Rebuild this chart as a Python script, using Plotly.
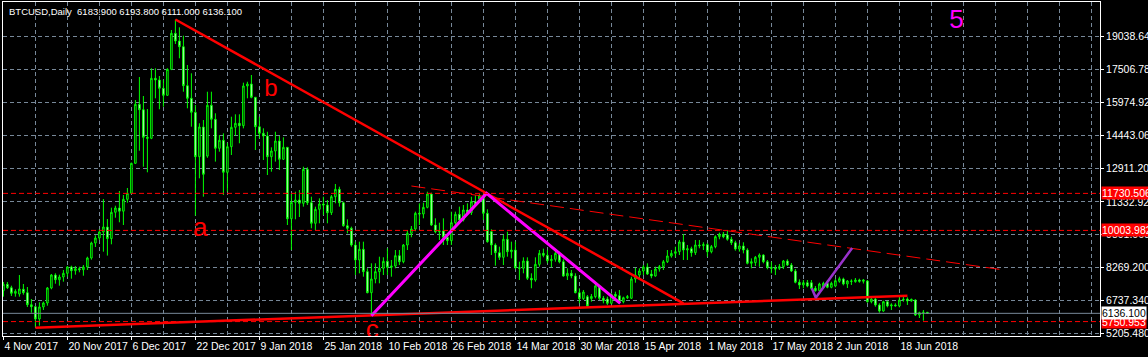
import plotly.graph_objects as go

# ---------------- data ----------------
tick_index = [0, 16, 32, 48, 64, 80, 96, 112, 128, 144, 160, 176, 192, 208, 224]
tick_labels = ["4 Nov 2017", "20 Nov 2017", "6 Dec 2017", "22 Dec 2017", "9 Jan 2018",
               "25 Jan 2018", "10 Feb 2018", "26 Feb 2018", "14 Mar 2018", "30 Mar 2018",
               "15 Apr 2018", "1 May 2018", "17 May 2018", "2 Jun 2018", "18 Jun 2018"]

price_ticks = [5205.48, 6737.34, 8269.2, 9801.06, 11332.92, 12911.2, 14443.06, 15974.92, 17506.78, 19038.64]
price_tick_text = ["5205.480", "6737.340", "8269.200", "9801.060", "11332.920", "12911.200",
                   "14443.060", "15974.920", "17506.780", "19038.640"]

opens = [
    7192, 7491, 7332, 7071, 7038, 7258, 7100, 6539, 6446, 5872, 6432, 6618, 7318, 7924, 7705, 7831,
    8003, 8297, 8124, 8218, 8171, 8297, 8717, 9417, 9650, 9930, 10163, 9624, 10849, 11049, 10900, 11454,
    11735, 13134, 15885, 15634, 14346, 14300, 17098, 17019, 16632, 16305, 17518, 19197, 18838, 18572, 16754, 16165,
    15512, 13442, 14827, 13470, 15839, 15186, 13833, 14207, 12714, 13908, 14813, 15000, 14887, 16739, 16832, 16212,
    14841, 14531, 14407, 13442, 13707, 14174, 13321, 13879, 10549, 11314, 11422, 11268, 12854, 11296, 10335, 10989,
    11236, 11188, 10830, 11577, 11921, 11296, 10224, 10102, 9323, 8624, 9123, 8081, 7099, 7738, 8081, 8237,
    8562, 8283, 8344, 8825, 8545, 9323, 9869, 10070, 10802, 10769, 11080, 11702, 10256, 9946, 9980, 9683,
    9524, 10364, 10755, 10489, 10956, 10830, 11343, 11468, 11608, 10802, 9946, 9323, 8964, 8748, 9590, 9011,
    9090, 8265, 8237, 8577, 7770, 7691, 8421, 8934, 8840, 8591, 8656, 8934, 8545, 7877, 8003, 7877,
    7099, 6819, 6913, 6820, 6913, 7411, 6838, 6805, 6604, 7024, 6960, 6679, 6865, 6840, 7738, 7924,
    8110, 8297, 7971, 7877, 8204, 8311, 8545, 8811, 8934, 9011, 9464, 9090, 9152, 8964, 9323, 9290,
    9340, 9011, 9246, 9711, 9822, 9790, 9590, 9431, 9137, 9277, 9090, 8470, 8500, 8750, 8857, 8545,
    8283, 8237, 8237, 8311, 8577, 8390, 8110, 7584, 7458, 7565, 7565, 7304, 7192, 7350, 7537, 7350,
    7411, 7630, 7738, 7504, 7644, 7612, 7691, 7630, 7644, 6679, 6805, 6526, 6245, 6679, 6479, 6526,
    6479, 6758, 6805, 6712, 6758, 6059, 6166, 6183.9,
]
highs = [
    7598, 7598, 7425, 7258, 7924, 7504, 7365, 6805, 6480, 6651, 6679, 7365, 7971, 8003, 7938, 8157,
    8344, 8358, 8344, 8311, 8390, 8778, 9478, 9776, 10056, 11468, 10535, 11064, 11157, 11842, 11655, 11982,
    13163, 16086, 17159, 16273, 15666, 17565, 17565, 17205, 17033, 17565, 19351, 19840, 19477, 19085, 17718, 17331,
    15853, 15000, 15153, 16473, 16473, 15466, 14454, 14531, 14095, 15307, 15419, 15419, 16893, 16939, 17252, 16226,
    15307, 14766, 14606, 13879, 14606, 14407, 14346, 13893, 11735, 11809, 11889, 12975, 12947, 11577, 11112, 11500,
    11577, 11422, 11655, 12169, 12043, 11343, 10521, 10179, 9478, 9478, 9478, 8237, 8470, 8470, 8778, 8750,
    9170, 8624, 9090, 9090, 9370, 10023, 10210, 10878, 11268, 11296, 11809, 11764, 10568, 10364, 10568, 9846,
    10878, 10878, 11112, 11188, 11268, 11577, 11650, 11700, 11730, 10989, 10056, 9400, 9246, 9800, 9946, 9478,
    9478, 8545, 8748, 8748, 8003, 8748, 9090, 9152, 9090, 8857, 9123, 9011, 8656, 8237, 8157, 8003,
    7304, 7225, 6991, 7038, 7537, 7458, 6944, 6913, 7071, 7146, 7225, 6913, 6991, 7845, 8265, 8237,
    8390, 8470, 8157, 8311, 8390, 8624, 9090, 9090, 9246, 9557, 9834, 9323, 9246, 9557, 9557, 9450,
    9400, 9323, 9776, 9900, 9930, 9991, 9711, 9524, 9400, 9450, 9170, 8700, 8811, 8934, 8890, 8624,
    8545, 8390, 8437, 8624, 8656, 8484, 8204, 7722, 7691, 7691, 7691, 7411, 7565, 7612, 7691, 7612,
    7752, 7845, 7800, 7691, 7722, 7784, 7752, 7738, 7691, 6882, 6882, 6604, 6725, 6725, 6604, 6604,
    6913, 6945, 6882, 6820, 6790, 6212, 6292, 6193.8,
]
lows = [
    6913, 7271, 6945, 6913, 6913, 7006, 6432, 6166, 5485, 5560, 6292, 6492, 7258, 7518, 7425, 7612,
    7845, 7752, 7938, 8050, 7891, 8157, 8638, 9230, 9557, 9011, 8829, 9356, 10596, 10382, 10256, 11296,
    11700, 13100, 13721, 12975, 12714, 14260, 16165, 15653, 15774, 16280, 17480, 18699, 18031, 16473, 15699, 14841,
    10690, 12434, 11577, 13391, 14764, 13212, 13676, 11655, 11809, 13521, 14420, 14067, 14764, 16165, 16165, 13754,
    14300, 13288, 12588, 12742, 13212, 12821, 13288, 10256, 9090, 10521, 10629, 11112, 11188, 10102, 10023, 10335,
    10722, 10335, 10722, 11268, 11112, 10177, 9869, 9246, 7924, 8003, 7845, 7071, 6026, 7537, 7537, 7924,
    7924, 7845, 8237, 8390, 8470, 9090, 9683, 9963, 10256, 10568, 11034, 10210, 9869, 9557, 9323, 9323,
    9323, 10256, 10410, 10420, 10722, 10722, 11112, 11420, 10489, 9431, 8857, 8358, 8624, 8390, 8778, 8700,
    8190, 7691, 8003, 7691, 7304, 7612, 8311, 8750, 8470, 8283, 8545, 8470, 7845, 7691, 7770, 7071,
    6604, 6758, 6446, 6679, 6835, 6758, 6604, 6526, 6555, 6758, 6604, 6604, 6805, 6805, 7565, 7770,
    7924, 7924, 7770, 7845, 8081, 8157, 8484, 8733, 8750, 8857, 8624, 8624, 8778, 8857, 9170, 9090,
    8778, 8934, 9170, 9590, 9640, 9524, 9323, 9060, 9011, 8934, 8420, 8237, 8344, 8311, 8470, 8190,
    8003, 7924, 8157, 8204, 8344, 8063, 7537, 7271, 7304, 7350, 7225, 7146, 7146, 7304, 7304, 7304,
    7350, 7565, 7441, 7318, 7458, 7565, 7565, 7528, 6632, 6604, 6446, 6166, 6212, 6415, 6292, 6446,
    6415, 6679, 6526, 6679, 6012, 5918, 5792, 6111.0,
]
closes = [
    7491, 7332, 7071, 7164, 7271, 7100, 6539, 6446, 5872, 6432, 6618, 7318, 7924, 7705, 7831, 8003,
    8297, 8124, 8218, 8171, 8297, 8717, 9417, 9650, 9930, 10163, 9624, 10849, 11049, 10900, 11454, 11735,
    13134, 15885, 15634, 14346, 14300, 17098, 17019, 16632, 16305, 17518, 19197, 18838, 18572, 16754, 16165, 15512,
    13442, 14827, 12620, 15839, 15186, 13833, 14207, 12714, 13908, 14813, 15000, 14887, 16739, 16832, 16212, 14841,
    14531, 14407, 13442, 13707, 14174, 13321, 13879, 10549, 11314, 11422, 11268, 12854, 11296, 10335, 10989, 11236,
    11188, 10830, 11577, 11921, 11296, 10224, 10102, 9323, 8624, 9123, 8081, 7099, 7738, 8081, 8237, 8562,
    8283, 8344, 8825, 8545, 9323, 9869, 10070, 10802, 10769, 11080, 11702, 10256, 9946, 9980, 9683, 9524,
    10364, 10755, 10489, 10956, 10830, 11343, 11188, 11608, 10802, 9478, 9323, 8964, 8748, 9590, 9011, 9090,
    8265, 8237, 8577, 7770, 7691, 8421, 8934, 8840, 8591, 8656, 8934, 8545, 7877, 8003, 7877, 7099,
    6819, 7131, 6479, 6925, 7411, 6838, 6725, 6604, 7024, 6930, 6679, 6865, 6913, 7738, 7924, 8110,
    8297, 7971, 7877, 8204, 8311, 8545, 8811, 8934, 9011, 9464, 9090, 9152, 8964, 9323, 9290, 9340,
    9011, 9246, 9711, 9822, 9711, 9590, 9431, 9137, 9277, 9090, 8470, 8545, 8750, 8857, 8545, 8283,
    8237, 8204, 8311, 8577, 8390, 8110, 7584, 7458, 7565, 7411, 7304, 7192, 7504, 7537, 7350, 7537,
    7658, 7752, 7504, 7644, 7630, 7691, 7630, 7691, 6679, 6805, 6526, 6245, 6679, 6479, 6526, 6490,
    6758, 6790, 6712, 6790, 6059, 6166, 6183.9, 6136.1,
]

# drawn chart objects (bar index, price)
down_line_x = [43, 170]
down_line_y = [19840, 6604]
support_x = [8, 226]
support_y = [5466, 6959]
upper_trend_x = [102, 249]
upper_trend_y = [12075, 8190]
magenta_x = [92, 120.8, 154.2]
magenta_y = [6026, 11730.506, 6604]
purple_x = [202.1, 203.1, 212.2]
purple_y = [7304, 6865, 9183]

red_levels = [11730.506, 10003.982, 5750.953]
bid_level = 6136.1

wave_labels = ["a", "b", "c", "5"]
wave_x = [49.2, 66.9, 92.2, 238.3]
wave_y = [10060, 16571, 5293, 19729]
wave_colors = ["#FF0000", "#FF0000", "#FF0000", "#FF00FF"]
wave_sizes = [26, 24, 26, 26]

title_text = "BTCUSD,Daily\u00a0\u00a06183.900\u00a06193.800\u00a06111.000\u00a06136.100"

# ---------------- figure ----------------
FONT = "Liberation Sans, Arial, sans-serif"
GRID = "#778899"

fig = go.Figure()
fig.add_trace(go.Candlestick(
    x=list(range(len(opens))), open=opens, high=highs, low=lows, close=closes,
    increasing=dict(line=dict(color="#00FF00", width=1), fillcolor="#000000"),
    decreasing=dict(line=dict(color="#00FF00", width=1), fillcolor="#FFFFFF"),
    whiskerwidth=0, hoverinfo="skip", showlegend=False))


def add_line(xs, ys, color, width, dash="solid"):
    fig.add_trace(go.Scatter(x=xs, y=ys, mode="lines",
                             line=dict(color=color, width=width, dash=dash),
                             hoverinfo="skip", showlegend=False))


add_line(upper_trend_x, upper_trend_y, "#FF0000", 1, "14px,6px")
add_line(support_x, support_y, "#FF0000", 2.5)
add_line(down_line_x, down_line_y, "#FF0000", 2.5)
add_line(magenta_x, magenta_y, "#FF00FF", 3)
add_line(purple_x, purple_y, "#9932CC", 2.5)

for lab, xx, yy, cc, ss in zip(wave_labels, wave_x, wave_y, wave_colors, wave_sizes):
    fig.add_trace(go.Scatter(x=[xx], y=[yy], mode="text", text=[lab],
                             textposition="middle center",
                             textfont=dict(family=FONT, size=ss, color=cc),
                             hoverinfo="skip", showlegend=False, cliponaxis=True))

for lv in red_levels:
    fig.add_shape(type="line", xref="paper", x0=0, x1=1, yref="y", y0=lv, y1=lv,
                  line=dict(color="#FF0000", width=1, dash="5px,3px"))
    fig.add_annotation(xref="paper", x=1, xanchor="left", xshift=1, yref="y", y=lv,
                       yanchor="middle", text=f"{lv:.3f}", showarrow=False,
                       bgcolor="#FF0000", borderpad=0,
                       font=dict(family=FONT, size=10.5, color="#FFFFFF"))
fig.add_shape(type="line", xref="paper", x0=0, x1=1, yref="y", y0=bid_level, y1=bid_level,
              line=dict(color=GRID, width=1))
fig.add_annotation(xref="paper", x=1, xanchor="left", xshift=1, yref="y", y=bid_level,
                   yanchor="middle", text=f"{bid_level:.3f}", showarrow=False,
                   bgcolor="#FFFFFF", borderpad=0,
                   font=dict(family=FONT, size=10.5, color="#000000"))

fig.add_annotation(xref="paper", yref="paper", x=0, y=1, xanchor="left", yanchor="top",
                   xshift=4, yshift=-2, text=title_text, showarrow=False,
                   font=dict(family=FONT, size=9.5, color="#FFFFFF"))

fig.update_layout(
    width=1148, height=357, autosize=False,
    margin=dict(l=3, r=48, t=2, b=21, pad=0),
    paper_bgcolor="#000000", plot_bgcolor="#000000",
    showlegend=False, boxgap=0.45,
    font=dict(family=FONT, size=10, color="#FFFFFF"),
    xaxis=dict(range=[-0.1, 274.15], tickmode="array", tickvals=tick_index, ticktext=tick_labels,
               ticklabelposition="outside right", ticks="outside", ticklen=3, tickcolor="#FFFFFF",
               tickangle=0, automargin=False,
               tickfont=dict(family=FONT, size=10.5, color="#FFFFFF"),
               showgrid=True, gridcolor=GRID, griddash="4px,3px", gridwidth=1,
               minor=dict(tickmode="linear", tick0=0, dtick=8, showgrid=True,
                          gridcolor=GRID, griddash="4px,3px", ticks=""),
               showline=True, linecolor="#FFFFFF", linewidth=1, mirror=True,
               zeroline=False, rangeslider=dict(visible=False), fixedrange=True),
    yaxis=dict(side="right", range=[5079, 20657], tickmode="array",
               tickvals=price_ticks, ticktext=price_tick_text,
               ticks="outside", ticklen=3, tickcolor="#FFFFFF", automargin=False,
               tickfont=dict(family=FONT, size=10.5, color="#FFFFFF"),
               showgrid=True, gridcolor=GRID, griddash="4px,3px", gridwidth=1,
               showline=True, linecolor="#FFFFFF", linewidth=1, mirror=True,
               zeroline=False, fixedrange=True),
)

fig.write_html("out.html", config={"displayModeBar": False})
